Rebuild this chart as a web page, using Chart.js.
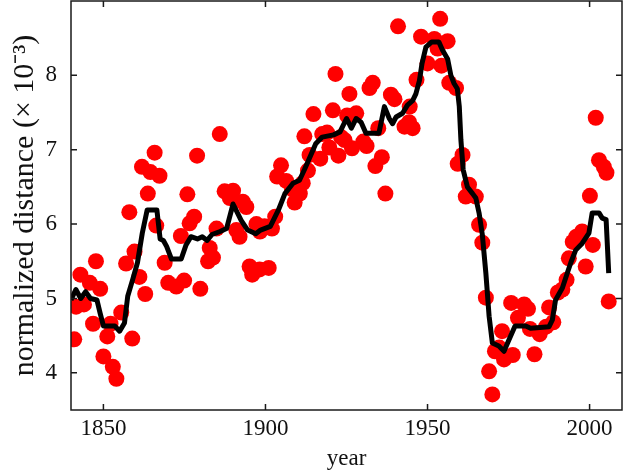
<!DOCTYPE html>
<html><head><meta charset="utf-8">
<script src="https://cdn.jsdelivr.net/npm/chart.js@4/dist/chart.umd.min.js"></script>
<style>html,body{margin:0;padding:0;background:#fff;overflow:hidden}#wrap{width:624px;height:471px}</style>
</head><body><div id="wrap"><canvas id="c" width="624" height="471"></canvas></div>
<script>
// Scatter observations (year, normalized distance x10^-3)
const pointYears = [1841.0,1841.6,1842.9,1844.0,1845.8,1846.8,1847.7,1849.0,1850.0,1851.2,1852.2,1852.9,1854.0,1855.5,1857.0,1858.0,1858.9,1859.6,1861.1,1861.9,1862.9,1863.7,1864.5,1865.8,1866.3,1867.3,1868.9,1870.0,1872.5,1873.9,1874.9,1875.9,1876.6,1878.0,1878.9,1879.9,1882.3,1882.8,1883.8,1884.9,1885.9,1887.4,1889.0,1890.0,1891.0,1892.0,1893.0,1894.1,1895.1,1895.9,1897.2,1898.3,1898.2,1899.7,1901.0,1902.0,1903.0,1903.6,1904.8,1906.4,1908.2,1909.0,1910.6,1911.5,1912.0,1913.1,1913.6,1914.8,1916.9,1917.5,1919.0,1919.7,1920.8,1921.6,1922.5,1923.3,1924.4,1925.2,1925.9,1926.7,1928.0,1930.2,1931.2,1932.1,1933.1,1933.9,1934.8,1935.9,1937.0,1938.7,1939.8,1940.9,1942.9,1944.3,1944.5,1945.4,1946.6,1948.0,1950.0,1952.1,1953.1,1953.9,1954.3,1956.2,1956.7,1958.8,1959.3,1960.8,1961.8,1962.8,1964.9,1965.9,1966.9,1968.0,1969.0,1970.0,1970.8,1972.1,1973.0,1973.6,1975.8,1976.3,1977.9,1979.8,1981.0,1981.6,1983.0,1984.6,1986.6,1987.5,1988.8,1990.2,1991.6,1992.9,1993.6,1994.8,1995.9,1997.7,1998.8,2000.1,2001.0,2001.9,2002.9,2004.4,2005.2,2005.9];
const pointValues = [4.45,4.89,5.32,4.92,5.21,4.66,5.50,5.13,4.22,4.49,4.66,4.08,3.92,4.81,5.47,6.16,4.46,5.63,5.29,6.77,5.06,6.41,6.70,6.96,5.98,6.65,5.48,5.21,5.16,5.84,5.24,6.40,6.01,6.10,6.92,5.13,5.50,5.68,5.55,5.94,7.21,6.44,6.35,6.45,5.92,5.83,6.30,6.23,5.43,5.32,6.00,5.90,5.39,5.97,5.41,5.94,6.10,6.64,6.79,6.58,6.47,6.29,6.41,6.55,7.18,6.72,6.93,7.48,6.88,7.21,7.23,7.03,7.53,8.02,6.92,7.17,7.13,7.46,7.75,7.02,7.49,7.11,7.05,7.83,7.90,6.78,7.29,6.90,6.41,7.74,7.68,8.66,7.31,7.37,7.58,7.29,7.94,8.52,8.16,8.49,8.36,8.76,8.13,8.46,7.90,7.83,6.81,6.93,6.37,6.53,6.37,5.99,5.75,5.01,4.02,3.71,4.29,4.34,4.56,4.18,4.94,4.24,4.74,4.92,4.86,4.59,4.25,4.52,4.62,4.88,4.68,5.08,5.12,5.25,5.54,5.76,5.83,5.90,5.43,6.38,5.72,7.43,6.86,6.77,6.69,4.96];
// Smoothed trend line vertices
const lineYears = [1840,1841.5,1843,1844.5,1846,1848,1849,1850,1853.5,1855,1856.5,1857.5,1859,1860.5,1862,1863.5,1866.5,1867.5,1868.5,1869.5,1871,1874,1875.5,1877,1879,1880.5,1882,1883.5,1886,1888,1890,1892.5,1894.5,1897,1898.5,1901.5,1904,1906,1908.5,1910.5,1912,1913.5,1915.5,1917.5,1921,1923,1925,1926.5,1928,1929.5,1931,1935,1936.7,1938.2,1939.2,1940.3,1942.3,1943.8,1945.4,1946.4,1947.5,1948.3,1949.5,1951.3,1953.5,1954.6,1956.2,1957.2,1958.2,1959.2,1959.8,1960.3,1961,1962.3,1963.9,1964.9,1965.9,1966.9,1968,1969,1970,1972,1973.6,1975.2,1977,1980.3,1981.8,1987.5,1988.5,1989.5,1991.6,1993.1,1994.2,1995.7,1997.7,1999.8,2000.8,2002.9,2003.9,2005.1,2005.9];
const lineValues = [4.98,5.12,5.00,5.09,5.00,4.98,4.80,4.63,4.63,4.56,4.67,5.03,5.25,5.48,5.88,6.19,6.19,5.80,5.78,5.70,5.53,5.53,5.72,5.83,5.80,5.83,5.78,5.86,5.90,5.94,6.27,6.05,5.92,5.87,5.92,5.97,6.19,6.41,6.55,6.59,6.73,6.88,7.08,7.17,7.20,7.24,7.42,7.29,7.42,7.37,7.22,7.22,7.58,7.42,7.35,7.44,7.49,7.60,7.66,7.75,7.93,8.16,8.38,8.45,8.45,8.34,8.22,8.00,7.89,7.82,7.58,7.13,6.73,6.50,6.41,6.35,6.15,5.86,5.34,4.76,4.40,4.36,4.29,4.45,4.63,4.63,4.60,4.62,4.71,4.98,5.14,5.34,5.48,5.65,5.74,5.88,6.15,6.15,6.08,6.06,5.34];
const xTickValues = [1850,1900,1950,2000];
const yTickValues = [4,5,6,7,8];
const xTitle = 'year';
const yTitle = 'normalized distance (× 10⁻³)';

const FONT = "'Liberation Serif','Times New Roman',serif";
const framePlugin = {
  id: 'frame',
  afterDatasetsDraw(chart) {
    const {ctx, chartArea: a, scales: {x, y}} = chart;
    ctx.save();
    ctx.strokeStyle = '#1a1a1a';
    ctx.lineWidth = 1.5;
    ctx.strokeRect(a.left, a.top, a.right - a.left, a.bottom - a.top);
    const L = 6;
    ctx.beginPath();
    xTickValues.forEach(v => {
      const p = x.getPixelForValue(v);
      ctx.moveTo(p, a.bottom); ctx.lineTo(p, a.bottom - L);
      ctx.moveTo(p, a.top); ctx.lineTo(p, a.top + L);
    });
    yTickValues.forEach(v => {
      const p = y.getPixelForValue(v);
      ctx.moveTo(a.left, p); ctx.lineTo(a.left + L, p);
      ctx.moveTo(a.right, p); ctx.lineTo(a.right - L, p);
    });
    ctx.stroke();
    ctx.restore();
  }
};

new Chart(document.getElementById('c'), {
  type: 'scatter',
  data: {
    datasets: [
      {
        type: 'line',
        data: lineYears.map((yr, i) => ({x: yr, y: lineValues[i]})),
        borderColor: '#000',
        borderWidth: 5,
        pointRadius: 0,
        fill: false,
        tension: 0,
        borderJoinStyle: 'round',
        order: 0
      },
      {
        type: 'scatter',
        data: pointYears.map((yr, i) => ({x: yr, y: pointValues[i]})),
        backgroundColor: '#ff0000',
        borderWidth: 0,
        pointRadius: 8,
        order: 1
      }
    ]
  },
  options: {
    responsive: false,
    animation: false,
    devicePixelRatio: 1,
    layout: {autoPadding: false, padding: {top: 1, right: 2, left: 0, bottom: 0}},
    plugins: {legend: {display: false}, tooltip: {enabled: false}},
    scales: {
      x: {
        type: 'linear', min: 1840, max: 2010,
        grid: {display: false, drawTicks: false}, border: {display: false},
        afterBuildTicks: s => { s.ticks = xTickValues.map(v => ({value: v})); },
        afterFit: s => { s.height = 61; s.paddingLeft = 0; s.paddingRight = 0; s.paddingTop = 0; s.paddingBottom = 0; },
        ticks: {color: '#111', font: {family: FONT, size: 23}, padding: 5, maxRotation: 0,
                callback: v => String(v)},
        title: {display: true, text: xTitle, color: '#111', font: {family: FONT, size: 23}, padding: {top: 0, bottom: -2}}
      },
      y: {
        type: 'linear', min: 3.5, max: 9,
        grid: {display: false, drawTicks: false}, border: {display: false},
        afterBuildTicks: s => { s.ticks = yTickValues.map(v => ({value: v})); },
        afterFit: s => { s.width = 71; s.paddingLeft = 0; s.paddingRight = 0; s.paddingTop = 0; s.paddingBottom = 0; },
        ticks: {color: '#111', font: {family: FONT, size: 23}, padding: 14,
                callback: v => String(v)},
        title: {display: true, text: yTitle, color: '#111', font: {family: FONT, size: 30}, padding: {top: 7, bottom: 0}}
      }
    }
  },
  plugins: [framePlugin]
});
</script>
</body></html>
